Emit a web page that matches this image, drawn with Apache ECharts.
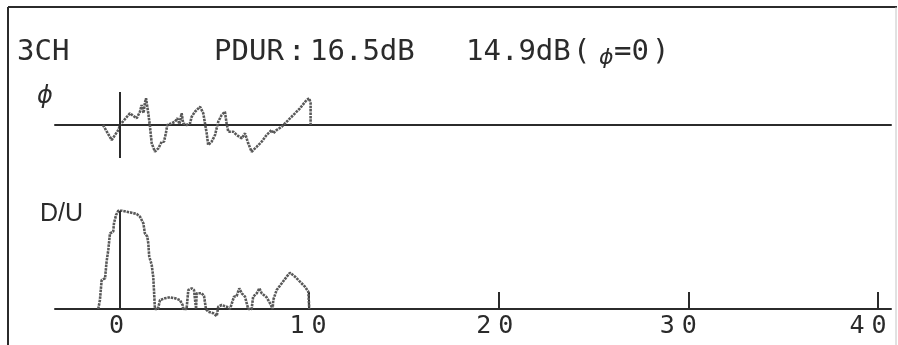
<!DOCTYPE html>
<html>
<head>
<meta charset="utf-8">
<script src="https://cdn.jsdelivr.net/npm/echarts@6/dist/echarts.min.js"></script>
<style>
html,body{margin:0;padding:0;background:#fff;}
#c{width:898px;height:345px;}
</style>
</head>
<body>
<div id="c"></div>
<script>
// ---- data (time axis in arbitrary units) ----
const tickValues = [0, 10, 20, 30, 40];
const phiT = [-0.87,-0.41,-0.06,0.03,0.55,0.91,1.08,1.17,1.27,1.34,1.40,1.52,1.61,1.70,1.87,2.05,2.23,2.35,2.45,2.52,2.75,2.93,3.05,3.16,3.28,3.36,3.54,3.72,3.81,3.98,4.25,4.42,4.51,4.60,4.68,4.86,5.04,5.21,5.39,5.56,5.65,5.74,6.00,6.18,6.45,6.62,6.79,6.97,7.24,7.50,7.76,8.03,8.11,8.29,8.56,8.82,9.17,9.52,9.87,10.01,10.08,10.08];
const phiV = [0,-15,-5,0,11.7,6.7,13.3,20,12,22,26.7,11.7,-1.7,-18.3,-26.7,-23.3,-16.7,-16.7,-8,0,1.7,3.3,6.7,1,11.7,1.7,0,1.7,8.3,13.3,18.3,11.7,1.7,-8.3,-20,-16.7,-10,3.3,10,13.3,1.7,-6.7,-6.7,-10,-13.3,-8.3,-18.3,-26.7,-21.7,-16.7,-10,-5,-8.3,-5,-1.7,3.3,10,16.7,25,26.7,21.7,0];
const duT = [-1.12,-1.03,-0.94,-0.76,-0.68,-0.59,-0.50,-0.33,-0.29,-0.18,-0.06,0.12,0.38,0.64,0.91,1.08,1.17,1.26,1.34,1.47,1.52,1.57,1.65,1.70,1.78,1.82,1.87,2.03,2.14,2.40,2.66,2.93,3.19,3.33,3.36,3.54,3.63,3.81,3.93,4.04,4.07,4.34,4.46,4.56,4.68,4.95,5.13,5.21,5.39,5.65,5.83,6.04,6.18,6.32,6.45,6.62,6.79,6.97,7.05,7.24,7.38,7.50,7.76,7.94,8.08,8.11,8.29,8.56,8.82,8.99,9.26,9.52,9.78,9.96,10.01];
const duV = [0,9,29,30.7,47.3,59,75.7,77.3,85.7,94,98.3,98.3,97.3,96.3,95,92.3,89,85.7,75.7,72.3,65.7,52.3,47.3,44,32.3,19,0,0,9,10.7,11.7,10.7,9,4,0,0,19,20.7,19,0,15.7,15.7,13,0,-2.7,-4.3,-7,2.3,4,2.3,0,12.3,13,20.7,15.7,12.3,0,0,12.3,15.7,20.7,15.7,11.7,5.7,0,9,19,25.7,32.3,36.3,32.3,27.3,22.3,17.3,0];

const XMIN = -3.4, XMAX = 40.69;
const MONO = '"DejaVu Sans Mono", monospace';
const INK = '#2b2b2b';
const CURVE = '#595959';

const chart = echarts.init(document.getElementById('c'), null, {renderer: 'canvas'});

const zip = (a, b) => a.map((t, i) => [t, b[i]]);
const duMax = Math.max(...duV);

// label spacing: printed digits are spread out and sit slightly left of the ticks
const labelShift = {0: 'p6', 10: 'p2', 20: 'p8', 30: 'p20', 40: 'p20'};
const digitLabel = v => String(v).split('').map(d => '{d|' + d + '}').join('') + '{' + (labelShift[v] || 'p2') + '|}';

const option = {
  backgroundColor: '#fff',
  animation: false,
  grid: [
    {left: 55, right: 7, top: 92, height: 66, containLabel: false, outerBoundsMode: 'none'},
    {left: 55, right: 7, top: 209, height: 110, containLabel: false, outerBoundsMode: 'none'}
  ],
  xAxis: [
    {gridIndex: 0, type: 'value', min: XMIN, max: XMAX,
     axisLine: {show: true, onZero: true, lineStyle: {color: INK, width: 2}},
     axisTick: {show: false}, axisLabel: {show: false}, splitLine: {show: false}},
    {gridIndex: 1, type: 'value', min: XMIN, max: XMAX,
     axisLine: {show: true, onZero: true, lineStyle: {color: INK, width: 2}},
     axisTick: {show: true, inside: true, length: 17, customValues: tickValues, lineStyle: {color: INK, width: 2}},
     axisLabel: {show: true, customValues: tickValues, margin: -5, formatter: digitLabel,
       rich: {
         d: {width: 22, align: 'center', fontFamily: MONO, fontSize: 25, lineHeight: 24, color: INK},
         p2: {width: 2}, p6: {width: 6}, p8: {width: 8}, p20: {width: 20}
       }},
     splitLine: {show: false}}
  ],
  yAxis: [
    {gridIndex: 0, type: 'value', min: -33, max: 33, show: false},
    {gridIndex: 1, type: 'value', min: -10, max: 100, show: false}
  ],
  series: [
    {type: 'line', xAxisIndex: 0, yAxisIndex: 0, data: zip(phiT, phiV), symbol: 'none',
     lineStyle: {color: CURVE, width: 2.6, type: [2.5, 0.9]},
     markLine: {silent: true, symbol: 'none', label: {show: false},
       lineStyle: {color: INK, width: 2, type: 'solid'},
       data: [{xAxis: 0}]}},
    {type: 'line', xAxisIndex: 1, yAxisIndex: 1, data: zip(duT, duV), symbol: 'none',
     lineStyle: {color: CURVE, width: 2.6, type: [2.5, 0.9]},
     markLine: {silent: true, symbol: 'none', label: {show: false},
       lineStyle: {color: INK, width: 2, type: 'solid'},
       data: [[{coord: [0, 0]}, {coord: [0, duMax]}]]}}
  ],
  graphic: [
    {type: 'line', shape: {x1: 8, y1: 7, x2: 8, y2: 345}, style: {stroke: INK, lineWidth: 2}},
    {type: 'line', shape: {x1: 8, y1: 7, x2: 897, y2: 7}, style: {stroke: INK, lineWidth: 2}},
    {type: 'line', shape: {x1: 896, y1: 7, x2: 896, y2: 345}, style: {stroke: '#c4c4c4', lineWidth: 1}},
    {type: 'text', left: 17, top: 38, style: {text: '3CH', font: '29px ' + MONO, fill: INK}},
    {type: 'text', left: 214, top: 38, style: {text: 'PDUR', font: '29px ' + MONO, fill: INK}},
    {type: 'text', left: 288, top: 38, style: {text: ':', font: '29px ' + MONO, fill: INK}},
    {type: 'text', left: 310, top: 38, style: {text: '16.5dB', font: '29px ' + MONO, fill: INK}},
    {type: 'text', left: 466, top: 38, style: {text: '14.9dB', font: '29px ' + MONO, fill: INK}},
    {type: 'text', left: 573, top: 38, style: {text: '(', font: '29px ' + MONO, fill: INK}},
    {type: 'text', left: 599, top: 47, style: {text: 'ϕ', font: 'italic 22px "DejaVu Sans", sans-serif', fill: INK}},
    {type: 'text', left: 614, top: 38, style: {text: '=0', font: '29px ' + MONO, fill: INK}},
    {type: 'text', left: 652, top: 38, style: {text: ')', font: '29px ' + MONO, fill: INK}},
    {type: 'text', left: 37, top: 85, style: {text: 'ϕ', font: 'italic 24px "DejaVu Sans", sans-serif', fill: INK}},
    {type: 'text', left: 40, top: 202, style: {text: 'D/U', font: '25px "Liberation Sans", sans-serif', fill: INK}}
  ]
};
chart.setOption(option);
</script>
</body>
</html>
